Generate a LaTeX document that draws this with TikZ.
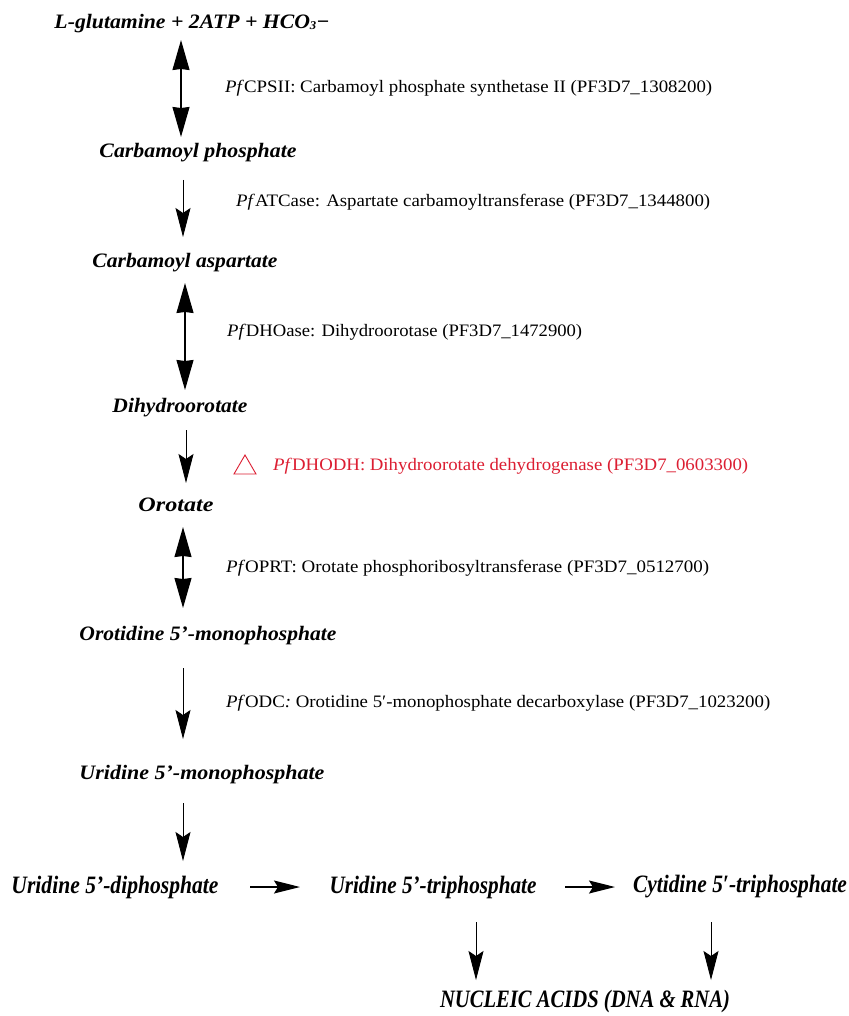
\documentclass[tikz,border=0pt]{standalone}
\usepackage{fontspec}
\setmainfont{Liberation Serif}
\usetikzlibrary{arrows.meta}
\definecolor{dhred}{RGB}{220,30,50}
\newcommand{\fitw}[2]{\resizebox{#1}{\height}{#2}}
\begin{document}
\begin{tikzpicture}[x=1pt,y=-1pt,
 metab/.style={inner sep=0pt, font=\fontsize{20.5}{22}\selectfont\bfseries\itshape},
 metabc/.style={inner sep=0pt, font=\fontsize{25}{27}\selectfont\bfseries\itshape},
 enz/.style={inner sep=0pt, anchor=west, font=\fontsize{17.5}{19}\selectfont},
 dbl/.style={line width=1.3pt, {Stealth[length=30pt,width=17pt,inset=1pt]}-{Stealth[length=30pt,width=17pt,inset=1pt]}},
 sgl/.style={line width=0.9pt, -{Stealth[length=29pt,width=15pt,inset=5pt]}},
 hor/.style={line width=1.3pt, -{Stealth[length=26pt,width=13pt,inset=4pt]}},
]
\useasboundingbox[fill=white] (0,0) rectangle (848,1016);

% metabolites
\node[metab] (glu) at (192,24) {\fitw{275pt}{L-glutamine + 2ATP + HCO\raisebox{-0.1ex}{\fontsize{12}{12}\selectfont 3}−}};
\node[metab] (cp)  at (198,153) {\fitw{197pt}{Carbamoyl phosphate}};
\node[metab] (ca)  at (185,263) {\fitw{185pt}{Carbamoyl aspartate}};
\node[metab] (dho) at (180,408) {\fitw{135pt}{Dihydroorotate}};
\node[metab] (oro) at (176,505) {\fitw{75pt}{Orotate}};
\node[metab] (omp) at (208,636) {\fitw{257pt}{Orotidine 5’-monophosphate}};
\node[metab] (ump) at (202,775) {\fitw{245pt}{Uridine 5’-monophosphate}};
\node[metabc] (udp) at (115,887) {\fitw{207pt}{Uridine 5’-diphosphate}};
\node[metabc] (utp) at (433,887) {\fitw{207pt}{Uridine 5’-triphosphate}};
\node[metabc] (ctp) at (740,887) {\fitw{214pt}{Cytidine 5′-triphosphate}};
\node[metabc] (na)  at (585,1001) {\fitw{290pt}{NUCLEIC ACIDS (DNA \& RNA)}};

% enzymes
\node[enz] (e1) at (225,88)  {\fitw{487pt}{\textit{Pf}CPSII: Carbamoyl phosphate  synthetase  II (PF3D7\_1308200)}};
\node[enz] (e2) at (236,202) {\fitw{474pt}{\textit{Pf}ATCase: Aspartate carbamoyltransferase  (PF3D7\_1344800)}};
\node[enz] (e3) at (227,332) {\fitw{355pt}{\textit{Pf}DHOase: Dihydroorotase  (PF3D7\_1472900)}};
\node[enz,text=dhred] (e4) at (273,466) {\fitw{475pt}{\textit{Pf}DHODH: Dihydroorotate  dehydrogenase  (PF3D7\_0603300)}};
\node[enz] (e5) at (226,568) {\fitw{483pt}{\textit{Pf}OPRT: Orotate phosphoribosyltransferase  (PF3D7\_0512700)}};
\node[enz] (e6) at (226,703) {\fitw{544pt}{\textit{Pf}ODC\textit{:} Orotidine  5′-monophosphate  decarboxylase  (PF3D7\_1023200)}};

% red triangle marker
\draw[dhred, line width=0.9pt, line join=miter] (234,474) -- (256,474) -- (245,455) -- cycle;

% arrow end points
\coordinate (a1t) at (181,40);  \coordinate (a1b) at (181,137);
\coordinate (a2t) at (183,180); \coordinate (a2b) at (183,237);
\coordinate (a3t) at (185,283); \coordinate (a3b) at (185,390);
\coordinate (a4t) at (186,430); \coordinate (a4b) at (186,483);
\coordinate (a5t) at (183,527); \coordinate (a5b) at (183,608);
\coordinate (a6t) at (183,668); \coordinate (a6b) at (183,739);
\coordinate (a7t) at (183,803); \coordinate (a7b) at (183,861);
\coordinate (h1l) at (250,887); \coordinate (h1r) at (300,887);
\coordinate (h2l) at (565,887); \coordinate (h2r) at (615,887);
\coordinate (d1t) at (476,922); \coordinate (d1b) at (476,980);
\coordinate (d2t) at (711,922); \coordinate (d2b) at (711,980);

\draw[dbl] (a1t) -- (a1b);
\draw[sgl] (a2t) -- (a2b);
\draw[dbl] (a3t) -- (a3b);
\draw[sgl] (a4t) -- (a4b);
\draw[dbl] (a5t) -- (a5b);
\draw[sgl] (a6t) -- (a6b);
\draw[sgl] (a7t) -- (a7b);
\draw[hor] (h1l) -- (h1r);
\draw[hor] (h2l) -- (h2r);
\draw[sgl] (d1t) -- (d1b);
\draw[sgl] (d2t) -- (d2b);
\end{tikzpicture}
\end{document}
